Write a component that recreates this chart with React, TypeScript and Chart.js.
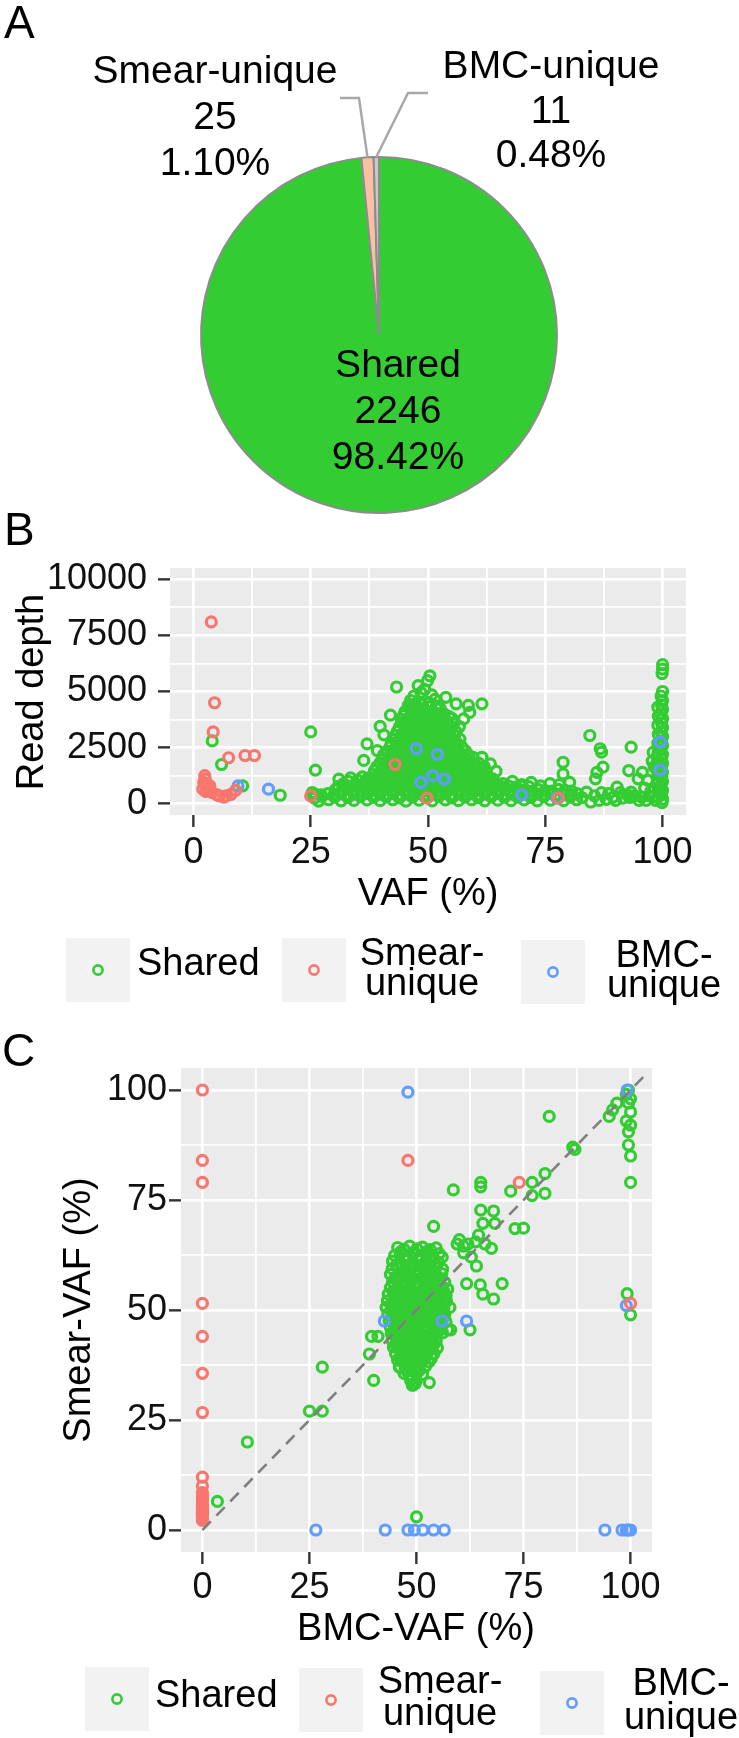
import React, { useEffect, useRef } from 'react';
import { Chart, registerables } from 'chart.js';

Chart.register(...registerables);

const FONT = "'Liberation Sans', Arial, Helvetica, sans-serif";
Chart.defaults.font.family = FONT;

const W = 739;

// ---------------- Panel A: pie ----------------
const pieLabels = ['Shared', 'Smear-unique', 'BMC-unique'];
const pieCounts = [2246, 25, 11];
const pieColors = ['#33CC33', '#F8C1A4', '#C8C8C8'];

// ---------------- Groups ----------------
const groupNames = ['Shared', 'Smear-unique', 'BMC-unique'];
const groupLegendLines = [['Shared'], ['Smear-', 'unique'], ['BMC-', 'unique']];
const groupColors = ['#33CC33', '#F8766D', '#619CFF'];

// ---------------- Panel B axes ----------------
const vafTicks = [0, 12.5, 25, 37.5, 50, 62.5, 75, 87.5, 100];
const vafMajor = [0, 25, 50, 75, 100];
const vafRange = [-5, 105];
const depthTicks = [0, 1250, 2500, 3750, 5000, 6250, 7500, 8750, 10000];
const depthMajor = [0, 2500, 5000, 7500, 10000];
const depthRange = [-500, 10500];

// ---------------- Panel B data: [VAF %, read depth] ----------------
const sharedB = [
  [4, 2800], [6, 1750], [10.5, 800], [18.5, 380], [25, 3200], [26, 1500],
  [50.4, 5700], [49.9, 5480], [47.9, 5260], [49.3, 5100], [43.3, 5200], [48.5, 4950], [47, 4800], [50.8, 4850],
  [51.5, 4650], [46.3, 4600], [53.8, 4740], [56, 4450], [58.6, 4380], [61.5, 4450], [58.9, 4070], [57.6, 3780], [56.7, 3440],
  [45.8, 4380], [47.3, 4450], [48.8, 4420], [50.2, 4500], [51.8, 4350], [52.6, 4250],
  [46.2, 4280], [47.6, 4300], [49, 4250], [50.4, 4320], [51.8, 4260],
  [45.1, 4100], [46.5, 4050], [47.9, 4150], [49.4, 4080], [50.7, 4120], [52.1, 4020], [53.4, 4000], [42, 3950],
  [44.8, 3930], [46.2, 3900], [47.6, 3950], [49, 3910], [50.4, 3940], [51.8, 3900], [53.2, 3930], [54.5, 3880],
  [44.3, 3760], [45.7, 3700], [47.1, 3800], [48.5, 3720], [49.9, 3780], [51.3, 3700], [52.7, 3760], [54, 3680], [55.1, 3800],
  [44.5, 3580], [45.9, 3550], [47.3, 3600], [48.7, 3560], [50.1, 3590], [51.5, 3540], [52.9, 3580], [54.3, 3560], [55.5, 3600],
  [39.8, 3450], [43.9, 3420], [45.2, 3380], [46.7, 3450], [48.1, 3350], [49.5, 3420], [50.9, 3380], [52.3, 3440], [53.6, 3360], [55, 3400],
  [43.5, 3230], [44.9, 3200], [46.3, 3250], [47.7, 3210], [49.1, 3240], [50.5, 3190], [51.9, 3230], [53.3, 3210], [54.7, 3250], [56, 3200],
  [40.6, 3070], [43.1, 3050], [44.5, 3100], [45.9, 3020], [47.3, 3080], [48.7, 3000], [50.1, 3060], [51.5, 3040], [52.9, 3100], [54.3, 3000], [55.7, 3050],
  [42.9, 2880], [44.3, 2850], [45.7, 2900], [47.1, 2860], [48.5, 2890], [49.9, 2840], [51.3, 2880], [52.7, 2860], [54.1, 2900], [55.5, 2850], [56.8, 2880],
  [37, 2670], [42.2, 2700], [43.6, 2740], [45, 2660], [46.4, 2720], [47.8, 2680], [49.2, 2750], [50.6, 2650], [52, 2700], [53.4, 2730], [54.8, 2660], [56.2, 2700],
  [41.9, 2530], [43.3, 2500], [44.7, 2550], [46.1, 2510], [47.5, 2540], [48.9, 2490], [50.3, 2530], [51.7, 2510], [53.1, 2550], [54.5, 2500], [55.9, 2530], [57.3, 2510],
  [39.2, 2370], [41.2, 2330], [42.6, 2400], [44, 2350], [45.4, 2300], [46.8, 2380], [48.2, 2320], [49.6, 2360], [51, 2300], [52.4, 2400], [53.8, 2340], [55.2, 2380], [56.6, 2300], [58, 2350],
  [40.5, 2180], [41.9, 2150], [43.3, 2200], [44.7, 2160], [46.1, 2190], [47.5, 2140], [48.9, 2180], [50.3, 2160], [51.7, 2200], [53.1, 2150], [54.5, 2180], [55.9, 2160], [57.3, 2200], [58.7, 2150],
  [36.3, 1930], [40.3, 2000], [41.7, 2050], [43.1, 1980], [44.5, 2020], [45.9, 1960], [47.3, 2050], [48.7, 2000], [50.1, 1950], [51.5, 2030], [52.9, 1980], [54.3, 2050], [55.7, 1990], [57.1, 2020], [58.5, 1960], [59.6, 2070], [61.5, 2070],
  [39.8, 1830], [41.2, 1800], [42.6, 1850], [44, 1810], [45.4, 1840], [46.8, 1790], [48.2, 1830], [49.6, 1810], [51, 1850], [52.4, 1800], [53.8, 1830], [55.2, 1810], [56.6, 1850], [58, 1800], [59.4, 1830], [60.8, 1810],
  [39.1, 1650], [40.5, 1700], [41.9, 1620], [43.3, 1680], [44.7, 1640], [46.1, 1700], [47.5, 1620], [48.9, 1660], [50.3, 1700], [51.7, 1640], [53.1, 1680], [54.5, 1620], [55.9, 1700], [57.3, 1650], [58.7, 1600], [60.1, 1700], [62, 1650], [63.3, 1780],
  [38.6, 1480], [40, 1450], [41.4, 1500], [42.8, 1460], [44.2, 1490], [45.6, 1440], [47, 1480], [48.4, 1460], [49.8, 1500], [51.2, 1450], [52.6, 1480], [54, 1460], [55.4, 1500], [56.8, 1450], [58.2, 1480], [59.6, 1460], [61, 1500], [62.4, 1450],
  [33, 1000], [35, 1050], [37.5, 1150], [38.3, 1300], [39.7, 1320], [41.1, 1280], [42.5, 1340], [43.9, 1300], [45.3, 1260], [46.7, 1330], [48.1, 1290], [49.5, 1350], [50.9, 1300], [52.3, 1260], [53.7, 1320], [55.1, 1280], [56.5, 1340], [57.9, 1300], [59.3, 1260], [60.7, 1320], [62.1, 1280], [64.5, 1450],
  [37.2, 1130], [38.6, 1100], [40, 1150], [41.4, 1110], [42.8, 1140], [44.2, 1090], [45.6, 1130], [47, 1110], [48.4, 1150], [49.8, 1100], [51.2, 1130], [52.6, 1110], [54, 1150], [55.4, 1100], [56.8, 1130], [58.2, 1110], [59.6, 1150], [61, 1100], [62.4, 1130], [63.8, 1110],
  [31, 1100], [32, 900], [33.5, 1150], [34.5, 850], [36, 1200], [36.5, 950], [37.9, 920], [39.3, 980], [40.7, 940], [42.1, 1000], [43.5, 930], [44.9, 970], [46.3, 1000], [47.7, 920], [49.1, 960], [50.5, 990], [51.9, 930], [53.3, 970], [54.7, 1010], [56.1, 940], [57.5, 980], [58.9, 920], [60.3, 1000], [61.7, 950], [63.1, 980], [64.6, 920], [66, 900], [68, 1000], [70, 850], [72, 950], [74, 800], [76, 900], [78, 850], [78.8, 1330], [78.8, 1850], [80.2, 950],
  [30.9, 780], [32.3, 750], [33.7, 800], [35.1, 760], [36.5, 790], [37.9, 740], [39.3, 780], [40.7, 760], [42.1, 800], [43.5, 750], [44.9, 780], [46.3, 760], [47.7, 800], [49.1, 750], [50.5, 780], [51.9, 760], [53.3, 800], [54.7, 750], [56.1, 780], [57.5, 760], [58.9, 800], [60.3, 750], [61.7, 780], [63.1, 760], [64.5, 790], [65.9, 750], [67.3, 780], [68.7, 740], [70.1, 790], [71.5, 760],
  [30.2, 620], [31.6, 560], [33, 650], [34.4, 600], [35.8, 550], [37.2, 640], [38.6, 590], [40, 560], [41.4, 630], [42.8, 580], [44.2, 650], [45.6, 600], [47, 550], [48.4, 620], [49.8, 580], [51.2, 640], [52.6, 560], [54, 610], [55.4, 650], [56.8, 590], [58.2, 560], [59.6, 630], [61, 600], [62.4, 560], [63.8, 640], [65.2, 590], [66.6, 620], [68, 560], [69.4, 640], [70.8, 600], [72.2, 550], [73.6, 630], [75, 590], [76.4, 560], [77.8, 640], [79.2, 600], [80.6, 560],
  [25.9, 430], [27.2, 400], [28.6, 450], [30, 410], [31.4, 440], [32.8, 390], [34.2, 430], [35.6, 410], [37, 450], [38.4, 400], [39.8, 430], [41.2, 410], [42.6, 450], [44, 400], [45.4, 430], [46.8, 410], [48.2, 450], [49.6, 400], [51, 430], [52.4, 410], [53.8, 450], [55.2, 400], [56.6, 430], [58, 410], [59.4, 450], [60.8, 400], [62.2, 430], [63.6, 410], [65, 450], [66.4, 400], [67.8, 430], [69.2, 410], [70.6, 450], [72, 400], [73.4, 430], [74.8, 410], [76.2, 450], [77.6, 400], [79, 430], [80.4, 410], [81.8, 450],
  [25.3, 500], [25.8, 250], [26.7, 120], [27.4, 330], [28.8, 180], [30.1, 300], [31.5, 130], [32.9, 280], [34.2, 150], [35.6, 320], [37, 170], [38.4, 290], [39.8, 140], [41.1, 310], [42.5, 180], [43.9, 260], [45.3, 120], [46.7, 300], [48.1, 160], [49.5, 280], [50.9, 130], [52.3, 320], [53.7, 170], [55.1, 260], [56.5, 140], [57.9, 300], [59.3, 180], [60.7, 270], [62.1, 130], [63.5, 310], [64.9, 160], [66.3, 290], [67.7, 140], [69.1, 300], [70.5, 170], [71.9, 280], [73.3, 130], [74.7, 320], [76.1, 160], [77.5, 280], [78.9, 140], [80.3, 300], [81.7, 180],
  [84.5, 3040], [86.7, 2450], [87, 2300], [87.3, 1630], [86, 1400], [85.7, 1110], [83.8, 520], [84.7, 80], [86.5, 150], [90.3, 740], [89.5, 300], [91.5, 250], [93, 280], [94.8, 1110], [93.3, 520], [95.7, 1400], [92.8, 1480], [93.3, 2520], [98, 2290], [96.2, 700], [97.2, 350], [96.8, 1050], [98.2, 1650], [97.8, 1900], [88, 200], [95, 150], [82.8, 280],
  [85.5, 350], [87, 500], [88.5, 450], [90, 150], [91, 500], [92.5, 400], [94, 350], [95.5, 300], [96.5, 150], [97.5, 550], [98, 300],
  [100, 6200], [99.9, 5800], [100, 6000], [100, 5000], [99.7, 4800], [100, 4600], [99.8, 4400], [100, 4200], [99.6, 4000], [100, 3800], [99.8, 3600], [100, 3400], [99.7, 3200], [100, 3000], [99.8, 2800], [100, 2600], [99.6, 2400], [100, 2200], [99.8, 2000], [100, 1800], [99.7, 1600], [100, 1400], [99.8, 1200], [100, 1000], [99.6, 800], [100, 600], [99.8, 400], [100, 200], [99.9, 50], [99, 1300], [98.8, 900], [99.2, 500], [98.5, 150],
  [99, 4300], [99.1, 3900], [99, 3500], [99.1, 3100], [99, 2700], [99.1, 2300], [99, 1900], [99.1, 1500], [99, 1100], [99.1, 700], [99, 300], [98.8, 2100], [98.6, 1700],
];
const smearB = [
  [3.8, 8100], [4.5, 4500], [4.2, 3200], [7.5, 2050], [11, 2150], [13, 2150], [2.5, 1100], [2.8, 900], [3.0, 700], [2.6, 550],
  [3.5, 800], [2.2, 950], [2.0, 650], [4, 500], [5, 400], [5.5, 350], [6.5, 300], [7, 350], [8, 420], [9, 600], [2.4, 1250],
  [43, 1750], [49.8, 250], [25, 350], [77.8, 250],
];
const bmcB = [
  [9.5, 800], [16, 650], [47.5, 2450], [52, 2200], [48.5, 950], [51, 1250], [53.5, 1100], [70, 400], [77.5, 250], [99.5, 2750], [99.5, 1500],
];

// ---------------- Panel C axes & data: [BMC-VAF %, Smear-VAF %] ----------------
const pctTicks = [0, 12.5, 25, 37.5, 50, 62.5, 75, 87.5, 100];
const pctMajor = [0, 25, 50, 75, 100];
const pctRange = [-5, 105];
const diagonal = [0, 103];

const sharedC = [
  [3.5, 6.5], [10.5, 20], [25, 27], [28, 27], [28, 37], [40, 34], [39, 40], [39.5, 44], [41, 44], [50, 3], [49, 33], [53, 33.5], [46, 37],
  [58, 45.5], [62.5, 45.5], [61.7, 56], [64.9, 55.7], [65.5, 53.6], [68, 52.5], [70, 56], [64, 60], [99.2, 53.7], [100, 48.9],
  [81, 94], [95, 94], [95.8, 95.5], [96.8, 97], [99.5, 100], [99, 99], [100, 98], [99.5, 97], [100, 95], [99, 93], [100, 92], [99.5, 90.5],
  [99.5, 87.5], [100, 85], [100, 79], [86.5, 87], [87, 86.5], [80, 81], [80, 76.5], [77, 79], [77, 76], [72, 77], [65, 79], [65, 78],
  [58.6, 77.3], [65, 72.7], [68, 72.5], [65.5, 69.7], [68.3, 69.7], [64.5, 67], [66, 65], [67.5, 64], [63.8, 65.5], [73, 68.5], [75, 68.6],
  [54, 69], [60, 66], [62, 65], [61, 63], [56, 62], [59.5, 65], [61, 64.5], [62.8, 62], [55.7, 53.8], [57, 52], [57.3, 45.5],
  [45.6, 64.2], [47.1, 63.8], [48.4, 64.5], [50.1, 63.9], [51.4, 64.3], [53.2, 63.7], [54.6, 64.1],
  [46.3, 63.2], [49.4, 63.1], [52.4, 63.3],
  [44.9, 62.4], [46.2, 62.8], [47.9, 62.3], [49.2, 62.7], [50.9, 62.2], [52.4, 62.6], [53.7, 62.4], [55.3, 62.8],
  [44.4, 61.1], [46.1, 60.8], [47.4, 61.3], [49.1, 60.9], [50.6, 61.2], [51.9, 60.7], [53.6, 61.1], [55.1, 60.9],
  [45.3, 60.2], [46.8, 60.1], [48.3, 60.3], [49.8, 60], [51.3, 60.2], [52.8, 60.1], [54.3, 60.3],
  [44.3, 59.4], [45.6, 59.8], [47.3, 59.3], [48.6, 59.7], [50.3, 59.2], [51.6, 59.6], [53.3, 59.4], [54.6, 59.8], [56.1, 59.3],
  [43.9, 58.1], [45.6, 57.8], [46.9, 58.3], [48.6, 57.9], [49.9, 58.2], [51.6, 57.7], [52.9, 58.1], [54.6, 57.9], [55.9, 58.3],
  [45, 57.2], [46.5, 57.1], [48, 57.3], [49.5, 57], [51, 57.2], [52.5, 57.1], [54, 57.3], [55.5, 57.1],
  [44.4, 56.4], [45.7, 56.8], [47.4, 56.3], [48.7, 56.7], [50.4, 56.2], [51.7, 56.6], [53.4, 56.4], [54.7, 56.8], [56.6, 56.3],
  [43.9, 55.1], [45.6, 54.8], [46.9, 55.3], [48.6, 54.9], [49.9, 55.2], [51.6, 54.7], [52.9, 55.1], [54.6, 54.9], [55.9, 55.3], [57.3, 54.8],
  [44.6, 54.2], [46.1, 54.1], [47.6, 54.3], [49.1, 54], [50.6, 54.2], [52.1, 54.1], [53.6, 54.3], [55.1, 54.1], [56.4, 54.2],
  [43.4, 53.6], [45.1, 53.3], [46.4, 53.8], [48.1, 53.4], [49.4, 53.7], [51.1, 53.2], [52.4, 53.6], [54.1, 53.4], [55.4, 53.8], [56.9, 53.3],
  [43.2, 52.1], [44.8, 51.8], [46.1, 52.3], [47.8, 51.9], [49.1, 52.2], [50.8, 51.7], [52.1, 52.1], [53.8, 51.9], [55.1, 52.3], [56.8, 51.8],
  [44.1, 51.2], [45.6, 51.1], [47.1, 51.3], [48.6, 51], [50.1, 51.2], [51.6, 51.1], [53.1, 51.3], [54.6, 51.1], [56, 51.2],
  [42.9, 50.6], [44.6, 50.3], [45.9, 50.8], [47.6, 50.4], [48.9, 50.7], [50.6, 50.2], [51.9, 50.6], [53.6, 50.4], [54.9, 50.8], [56.4, 50.3], [57.8, 50.6],
  [43.3, 49.1], [44.6, 48.8], [46.3, 49.3], [47.6, 48.9], [49.3, 49.2], [50.6, 48.7], [52.3, 49.1], [53.6, 48.9], [55.3, 49.3], [56.6, 48.8],
  [44.2, 48.2], [45.7, 48.1], [47.2, 48.3], [48.7, 48], [50.2, 48.2], [51.7, 48.1], [53.2, 48.3], [54.7, 48.1], [56.2, 48.2],
  [43.6, 47.6], [44.9, 47.3], [46.6, 47.8], [47.9, 47.4], [49.6, 47.7], [50.9, 47.2], [52.6, 47.6], [53.9, 47.4], [55.6, 47.8], [56.9, 47.3],
  [43.9, 46.1], [45.4, 45.8], [46.7, 46.3], [48.4, 45.9], [49.7, 46.2], [51.4, 45.7], [52.7, 46.1], [54.4, 45.9], [55.7, 46.3],
  [44.6, 45.2], [46.1, 45.1], [47.6, 45.3], [49.1, 45], [50.6, 45.2], [52.1, 45.1], [53.6, 45.3], [55.1, 45.1],
  [44.1, 44.6], [45.4, 44.3], [47.1, 44.8], [48.4, 44.4], [50.1, 44.7], [51.4, 44.2], [53.1, 44.6], [54.4, 44.4], [56.1, 44.8],
  [44.3, 43.1], [45.6, 42.8], [47.3, 43.3], [48.6, 42.9], [50.3, 43.2], [51.6, 42.7], [53.3, 43.1], [54.6, 42.9],
  [45.1, 42.2], [46.6, 42.1], [48.1, 42.3], [49.6, 42], [51.1, 42.2], [52.6, 42.1], [54.1, 42.3],
  [44.6, 41.6], [45.9, 41.3], [47.6, 41.8], [48.9, 41.4], [50.6, 41.7], [51.9, 41.2], [53.6, 41.6], [54.9, 41.4],
  [45.1, 40.1], [46.4, 39.8], [48.1, 40.3], [49.4, 39.9], [51.1, 40.2], [52.4, 39.7], [54.1, 40.1],
  [46.1, 39.2], [47.6, 39.1], [49.1, 39.3], [50.6, 39], [52.1, 39.2], [53.5, 39.1],
  [45.6, 38.6], [46.9, 38.3], [48.6, 38.8], [49.9, 38.4], [51.6, 38.7], [52.9, 38.2],
  [46.1, 37.1], [47.4, 36.8], [49.1, 37.3], [50.4, 36.9], [52.1, 37.2],
  [47.7, 36.2], [49.2, 36.1], [50.7, 36.3],
  [47.1, 35.6], [48.4, 35.3], [50.1, 35.8], [51.4, 35.4],
  [48.6, 34.1], [49.9, 33.8], [49.1, 32.9], [49.6, 33.2],
];
const smearC = [
  [0, 100], [0, 84], [0, 79], [48, 84], [74, 79], [0, 51.5], [0, 44], [0, 35.6], [0, 26.7], [0, 12], [0, 10], [0, 8.5],
  [0, 7.2], [0, 6.5], [0, 5.8], [0, 5.2], [0, 4.6], [0, 4], [0, 3.4], [0, 2.8], [0, 2.2], [0, 7.8], [0, 3.8], [0, 5], [100, 51.5],
];
const bmcC = [
  [48, 99.5], [99.2, 100], [26.5, 0], [42.7, 0], [48, 0], [49.5, 0], [51.5, 0], [54, 0], [56.5, 0], [94, 0], [98, 0], [99, 0],
  [99.5, 0], [100, 0], [42.5, 47.5], [56, 47.5], [61.7, 47.5], [99, 51],
];

// ---------------- helpers ----------------
const pieDecor = {
  id: 'pieDecor',
  afterDraw(chart: any) {
    const ctx = chart.ctx;
    const meta = chart.getDatasetMeta(0);
    const total = pieCounts.reduce((a, b) => a + b, 0);
    const pct = (n: number) => ((n / total) * 100).toFixed(2) + '%';
    const edge = (i: number) => {
      const p = meta.data[i].getProps(['x', 'y', 'startAngle', 'endAngle', 'outerRadius'], true);
      const m = (p.startAngle + p.endAngle) / 2;
      return [p.x + Math.cos(m) * p.outerRadius, p.y + Math.sin(m) * p.outerRadius];
    };
    ctx.save();
    ctx.strokeStyle = '#A8A8A8';
    ctx.lineWidth = 2.5;
    let e = edge(1);
    ctx.beginPath(); ctx.moveTo(340, 98); ctx.lineTo(359, 98); ctx.lineTo(e[0], e[1]); ctx.stroke();
    e = edge(2);
    ctx.beginPath(); ctx.moveTo(428, 93); ctx.lineTo(408, 93); ctx.lineTo(e[0], e[1]); ctx.stroke();
    ctx.fillStyle = '#000';
    ctx.textAlign = 'center';
    ctx.textBaseline = 'alphabetic';
    ctx.font = `39px ${FONT}`;
    const block = (x: number, ys: number[], i: number) => {
      ctx.fillText(pieLabels[i], x, ys[0]);
      ctx.fillText(String(pieCounts[i]), x, ys[1]);
      ctx.fillText(pct(pieCounts[i]), x, ys[2]);
    };
    block(398, [377, 423, 469], 0);
    block(215, [83, 129, 175], 1);
    block(551, [78, 123, 167], 2);
    ctx.textAlign = 'left';
    ctx.font = `46px ${FONT}`;
    ctx.fillText('A', 4, 38);
    ctx.restore();
  },
};

function decorPlugin(d: any) {
  return {
    id: 'decor' + d.letter,
    beforeDraw(chart: any) {
      const { ctx, chartArea: a } = chart;
      ctx.save();
      ctx.fillStyle = '#EBEBEB';
      ctx.fillRect(a.left, a.top, a.right - a.left, a.bottom - a.top);
      ctx.restore();
    },
    afterDraw(chart: any) {
      const ctx = chart.ctx;
      const o = d.top;
      ctx.save();
      ctx.fillStyle = '#000';
      ctx.textBaseline = 'alphabetic';
      ctx.textAlign = 'left';
      ctx.font = `46px ${FONT}`;
      ctx.fillText(d.letter, d.letterX, d.letterY - o);
      ctx.font = `38px ${FONT}`;
      ctx.textAlign = 'center';
      ctx.fillText(d.xTitle, d.xTitleX, d.xTitleY - o);
      ctx.save();
      ctx.translate(d.yTitleX, d.yTitleY - o);
      ctx.rotate(-Math.PI / 2);
      ctx.fillText(d.yTitle, 0, 0);
      ctx.restore();
      d.legend.forEach((it: any, i: number) => {
        const [bx, by, bw, bh] = it.box;
        ctx.fillStyle = '#F2F2F2';
        ctx.fillRect(bx, by - o, bw, bh);
        ctx.strokeStyle = groupColors[i];
        ctx.lineWidth = 2.6;
        ctx.beginPath();
        ctx.arc(bx + bw / 2, by + bh / 2 - o, 4.6, 0, Math.PI * 2);
        ctx.stroke();
        ctx.fillStyle = '#000';
        ctx.textAlign = it.align;
        groupLegendLines[i].forEach((line, j) => ctx.fillText(line, it.textX, it.baselines[j] - o));
      });
      ctx.restore();
    },
  };
}

function scatterConfig(p: any) {
  const gridFor = (major: number[]) => ({
    color: '#FFFFFF',
    lineWidth: (c: any) => (c.tick && major.includes(c.tick.value) ? 2.7 : 1.8),
    tickColor: (c: any) => (c.tick && major.includes(c.tick.value) ? '#333333' : 'rgba(0,0,0,0)'),
    tickWidth: 2.4,
    tickLength: 12,
    drawTicks: true,
  });
  const tickFont = { size: 36, family: FONT };
  const datasets: any[] = p.series.map((pts: number[][], i: number) => ({
    type: 'scatter',
    label: groupNames[i],
    data: pts.map(([x, y]) => ({ x, y })),
    borderColor: groupColors[i],
    backgroundColor: 'rgba(0,0,0,0)',
    pointRadius: 5,
    pointHoverRadius: 5,
    pointBorderWidth: 3.2,
    showLine: false,
    order: [30, 10, 20][i],
  }));
  if (p.diagonal) {
    datasets.push({
      type: 'line',
      label: 'y = x',
      data: p.diagonal.map((v: number) => ({ x: v, y: v })),
      borderColor: '#7F7F7F',
      borderWidth: 2.6,
      borderDash: [12, 8],
      pointRadius: 0,
      fill: false,
      order: 0,
    });
  }
  const H = p.height;
  return {
    type: 'scatter',
    data: { datasets },
    options: {
      responsive: false,
      maintainAspectRatio: false,
      animation: false,
      events: [],
      layout: { padding: { left: 0, right: W - p.area.right, top: p.area.top - p.top, bottom: 0 } },
      plugins: { legend: { display: false }, tooltip: { enabled: false } },
      scales: {
        x: {
          type: 'linear',
          position: 'bottom',
          min: p.xRange[0],
          max: p.xRange[1],
          afterBuildTicks: (s: any) => { s.ticks = p.xTicks.map((v: number) => ({ value: v })); },
          afterFit: (s: any) => { s.height = H - (p.area.bottom - p.top); },
          grid: gridFor(p.xMajor),
          border: { display: false },
          ticks: {
            autoSkip: false, maxRotation: 0, minRotation: 0, padding: p.xPad, color: '#111', font: tickFont,
            callback: (v: number) => (p.xMajor.includes(v) ? String(v) : ''),
          },
        },
        y: {
          type: 'linear',
          position: 'left',
          min: p.yRange[0],
          max: p.yRange[1],
          afterBuildTicks: (s: any) => { s.ticks = p.yTicks.map((v: number) => ({ value: v })); },
          afterFit: (s: any) => { s.width = p.area.left; },
          grid: gridFor(p.yMajor),
          border: { display: false },
          ticks: {
            autoSkip: false, padding: p.yPad, color: '#111', font: tickFont,
            callback: (v: number) => (p.yMajor.includes(v) ? String(v) : ''),
          },
        },
      },
    },
    plugins: [decorPlugin(p.decor)],
  };
}

const B_TOP = 490, B_H = 540;
const C_TOP = 1025, C_H = 713;

function ChartCanvas({ top, height, build }: any) {
  const ref = useRef<HTMLCanvasElement>(null);
  useEffect(() => {
    const chart = new Chart(ref.current as HTMLCanvasElement, build());
    return () => chart.destroy();
  }, []);
  return (
    <canvas
      ref={ref}
      width={W}
      height={height}
      style={{ position: 'absolute', left: 0, top, width: W, height, display: 'block' }}
    />
  );
}

function pieConfig() {
  return {
    type: 'pie',
    data: {
      labels: pieLabels,
      datasets: [{ data: pieCounts, backgroundColor: pieColors, borderColor: '#8C8C8C', borderWidth: 2 }],
    },
    options: {
      responsive: false,
      maintainAspectRatio: false,
      animation: false,
      events: [],
      rotation: 0,
      layout: { padding: { left: 200, right: 181, top: 156, bottom: 16 } },
      plugins: { legend: { display: false }, tooltip: { enabled: false } },
    },
    plugins: [pieDecor],
  };
}

function configB() {
  return scatterConfig({
    top: B_TOP, height: B_H,
    area: { left: 170, right: 686, top: 568, bottom: 815 },
    xTicks: vafTicks, xMajor: vafMajor, xRange: vafRange,
    yTicks: depthTicks, yMajor: depthMajor, yRange: depthRange,
    xPad: 4, yPad: 11,
    series: [sharedB, smearB, bmcB],
    decor: {
      top: B_TOP, letter: 'B', letterX: 4, letterY: 545,
      xTitle: 'VAF (%)', xTitleX: 428, xTitleY: 905,
      yTitle: 'Read depth', yTitleX: 43, yTitleY: 692,
      legend: [
        { box: [66, 938, 64, 64], align: 'left', textX: 137, baselines: [975] },
        { box: [282, 938, 64, 64], align: 'center', textX: 422, baselines: [965, 995] },
        { box: [521, 940, 64, 64], align: 'center', textX: 664, baselines: [967, 997] },
      ],
    },
  });
}

function configC() {
  return scatterConfig({
    top: C_TOP, height: C_H,
    area: { left: 181, right: 652, top: 1068, bottom: 1552 },
    xTicks: pctTicks, xMajor: pctMajor, xRange: pctRange,
    yTicks: pctTicks, yMajor: pctMajor, yRange: pctRange,
    xPad: 2, yPad: 2,
    series: [sharedC, smearC, bmcC],
    diagonal,
    decor: {
      top: C_TOP, letter: 'C', letterX: 2, letterY: 1066,
      xTitle: 'BMC-VAF (%)', xTitleX: 416, xTitleY: 1640,
      yTitle: 'Smear-VAF (%)', yTitleX: 90, yTitleY: 1310,
      legend: [
        { box: [85, 1667, 64, 64], align: 'left', textX: 155, baselines: [1707] },
        { box: [299, 1668, 64, 64], align: 'center', textX: 440, baselines: [1693, 1725] },
        { box: [540, 1671, 64, 64], align: 'center', textX: 681, baselines: [1695, 1729] },
      ],
    },
  });
}

export default function App() {
  return (
    <div style={{ position: 'absolute', left: 0, top: 0, width: W, height: 1738, background: '#FFFFFF', overflow: 'hidden' }}>
      <ChartCanvas top={0} height={530} build={pieConfig} />
      <ChartCanvas top={B_TOP} height={B_H} build={configB} />
      <ChartCanvas top={C_TOP} height={C_H} build={configC} />
    </div>
  );
}
